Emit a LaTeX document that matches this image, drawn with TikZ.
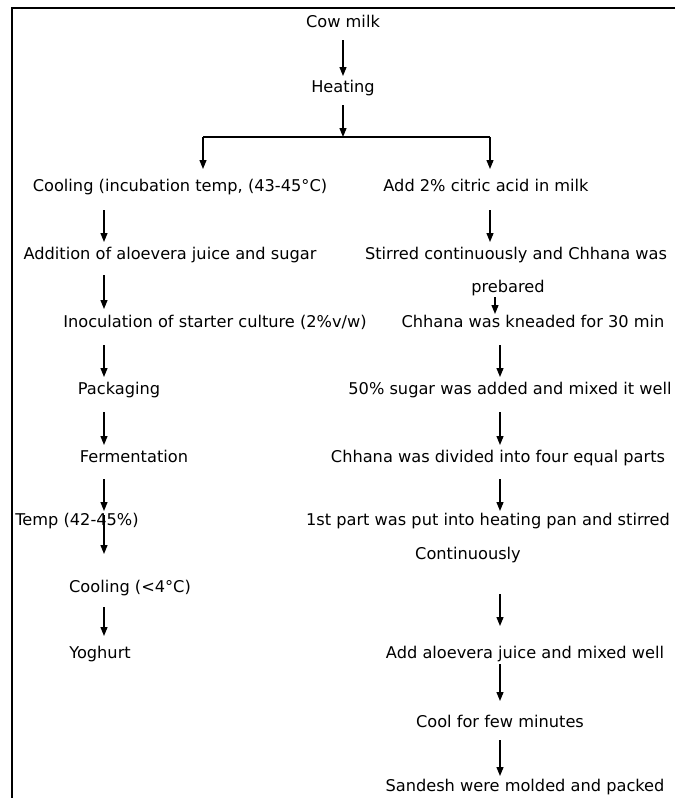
\documentclass[tikz,border=0pt]{standalone}
\usepackage{fontspec}
\setmainfont{DejaVu Sans}
\usetikzlibrary{arrows.meta,calc}
\begin{document}
\begin{tikzpicture}[x=1pt,y=-1pt,
  lbl/.style={inner sep=0pt, text height=12pt, text depth=3.5pt, font=\fontsize{16.2}{19}\selectfont},
  arr/.style={line width=1.2pt, -{Triangle[length=9pt,width=7pt]}},
  plain/.style={line width=1.2pt},
  frame/.style={line width=2pt}]
\useasboundingbox (0,0) rectangle (675,798);
% frame (top and left edges only)
\draw[frame] (675,7.5) -- (11.5,7.5) -- (11.5,798);

% column coordinates
\coordinate (xL) at (104,0);
\coordinate (xR) at (500,0);
\coordinate (xR1) at (490,0);
\coordinate (xP) at (495,0);

% nodes
\node[lbl] (cow)  at (343,23)  {Cow milk};
\node[lbl] (heat) at (343,88)  {Heating};
\coordinate (br)  at (343,137);
\coordinate (brL) at (203,137);
\coordinate (brR) at (490,137);

\node[lbl] (c1) at (180,187) {Cooling (incubation temp, (43-45°C)};
\node[lbl] (d1) at (486,187) {Add 2\% citric acid in milk};
\node[lbl] (c2) at (170,255) {Addition of aloevera juice and sugar};
\node[lbl] (d2) at (516,255) {Stirred continuously and Chhana was};
\node[lbl] (d2b) at (508,288) {prebared};
\node[lbl] (c3) at (215,323) {Inoculation of starter culture (2\%v/w)};
\node[lbl] (d3) at (533,323) {Chhana was kneaded for 30 min};
\node[lbl] (c4) at (119,390) {Packaging};
\node[lbl] (d4) at (510,390) {50\% sugar was added and mixed it well};
\node[lbl] (c5) at (134,458) {Fermentation};
\node[lbl] (d5) at (498,458) {Chhana was divided into four equal parts};
\node[lbl] (c6) at (77,521) {Temp (42-45\%)};
\node[lbl] (d6) at (488,521) {1st part was put into heating pan and stirred};
\node[lbl] (d6b) at (468,555) {Continuously};
\node[lbl] (c7) at (130,588) {Cooling (<4°C)};
\node[lbl] (c8) at (100,654) {Yoghurt};
\node[lbl] (d7) at (525,654) {Add aloevera juice and mixed well};
\node[lbl] (d8) at (500,723) {Cool for few minutes};
\node[lbl] (d9) at (525,787) {Sandesh were molded and packed};

% top stem and bracket
\draw[arr] ($(cow.center)+(0,17)$) -- ($(heat.center)+(0,-12)$);
\draw[arr] ($(heat.center)+(0,17)$) -- (br);
\draw[plain] (brL) -- (brR);
\draw[arr] (brL) -- ($(c1.center -| brL)+(0,-18)$);
\draw[arr] (brR) -- ($(d1.center -| brR)+(0,-18)$);

% left column
\draw[arr] ($(c1.center -| xL)+(0,23)$) -- ($(c2.center -| xL)+(0,-13)$);
\draw[arr] ($(c2.center -| xL)+(0,20)$) -- ($(c3.center -| xL)+(0,-14)$);
\draw[arr] ($(c3.center -| xL)+(0,22)$) -- ($(c4.center -| xL)+(0,-13)$);
\draw[arr] ($(c4.center -| xL)+(0,22)$) -- ($(c5.center -| xL)+(0,-13)$);
\draw[arr] ($(c5.center -| xL)+(0,21)$) -- ($(c6.center -| xL)+(0,-10)$);
\draw[arr] ($(c6.center -| xL)+(0,-6)$) -- ($(c7.center -| xL)+(0,-34)$);
\draw[arr] ($(c7.center -| xL)+(0,19)$) -- ($(c8.center -| xL)+(0,-18)$);

% right column
\draw[arr] ($(d1.center -| xR1)+(0,23)$) -- ($(d2.center -| xR1)+(0,-13)$);
\draw[arr] ($(d2b.center -| xP)+(0,9)$) -- ($(d3.center -| xP)+(0,-9)$);
\draw[arr] ($(d3.center -| xR)+(0,22)$) -- ($(d4.center -| xR)+(0,-13)$);
\draw[arr] ($(d4.center -| xR)+(0,22)$) -- ($(d5.center -| xR)+(0,-13)$);
\draw[arr] ($(d5.center -| xR)+(0,21)$) -- ($(d6.center -| xR)+(0,-10)$);
\draw[arr] ($(d6b.center -| xR)+(0,39)$) -- ($(d7.center -| xR)+(0,-28)$);
\draw[arr] ($(d7.center -| xR)+(0,10)$) -- ($(d8.center -| xR)+(0,-22)$);
\draw[arr] ($(d8.center -| xR)+(0,17)$) -- ($(d9.center -| xR)+(0,-11)$);
\end{tikzpicture}
\end{document}
